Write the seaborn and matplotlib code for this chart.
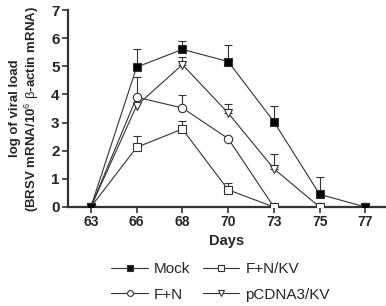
import numpy as np
import pandas as pd
import matplotlib
matplotlib.use("Agg")
import matplotlib.pyplot as plt
import seaborn as sns

days = ["63", "66", "68", "70", "73", "75", "77"]
mock = [0, 4.97, 5.60, 5.17, 3.03, 0.45, 0]
mock_err = [0, 0.66, 0.31, 0.57, 0.55, 0.63, 0]
fnkv = [0, 2.12, 2.77, 0.61, 0, 0, 0]
fnkv_err = [0, 0.41, 0.27, 0.25, 0, 0, 0]
fn = [0, 3.90, 3.52, 2.43, 0, 0, 0]
fn_err = [0, 0.71, 0.46, 0, 0, 0, 0]
pcdna = [0, 3.60, 5.06, 3.34, 1.36, 0, 0]
pcdna_err = [0, 0, 0.26, 0.32, 0.53, 0, 0]

series = ["Mock", "F+N/KV", "F+N", "pCDNA3/KV"]
values = [mock, fnkv, fn, pcdna]
errors = [mock_err, fnkv_err, fn_err, pcdna_err]

sns.set_style("ticks")
plt.rcParams["font.family"] = ["Liberation Sans", "DejaVu Sans"]
plt.rcParams["mathtext.fontset"] = "custom"
plt.rcParams["mathtext.rm"] = "Liberation Sans"
plt.rcParams["mathtext.it"] = "Liberation Sans"
plt.rcParams["mathtext.bf"] = "Liberation Sans:bold"

pos = np.arange(len(days))
df = pd.concat([pd.DataFrame({"x": pos, "y": v, "group": s})
                for s, v in zip(series, values)])

fig = plt.figure(figsize=(3.86, 3.06), dpi=100)
ax = fig.add_axes([68 / 386, 1 - 207 / 306, 318 / 386, 197 / 306])

styles = {
    "Mock": dict(marker="s", mfc="black"),
    "F+N/KV": dict(marker="s", mfc="white"),
    "F+N": dict(marker="o", mfc="white"),
    "pCDNA3/KV": dict(marker="v", mfc="white"),
}

# fehlerbalken nur nach oben
for s, v, e in zip(series, values, errors):
    e = np.array(e)
    mask = e > 0
    ax.errorbar(pos[mask], np.array(v)[mask], yerr=[np.zeros(mask.sum()), e[mask]],
                fmt="none", ecolor="#333333", elinewidth=0.8, capsize=3, capthick=0.8,
                zorder=2)

for s in series[::-1]:
    sub = df[df.group == s]
    st = styles[s]
    sns.lineplot(data=sub, x="x", y="y", ax=ax, color="#333333", linewidth=0.8,
                 marker=st["marker"], markerfacecolor=st["mfc"],
                 markeredgecolor="#333333", markeredgewidth=0.8, markersize=6,
                 label=s, zorder=3)

ax.set_xlim(-0.5, 6.45)
ax.set_ylim(0, 7)
ax.set_xticks(pos)
ax.set_xticklabels(days, fontweight="bold", fontsize=10)
ax.set_yticks(range(8))
ax.set_yticklabels([str(i) for i in range(8)], fontweight="bold", fontsize=11)
ax.tick_params(length=4, width=1.2, color="#333333", pad=2)
for sp in ["left", "bottom"]:
    ax.spines[sp].set_linewidth(1.6)
    ax.spines[sp].set_color("#333333")
sns.despine(ax=ax)
ax.set_xlabel("Days", fontweight="bold", fontsize=10.5, labelpad=3)
ax.set_ylabel("log of viral load\n(BRSV mRNA/10$^{6}$ $\\beta$-actin mRNA)",
              fontweight="bold", fontsize=9.5, labelpad=7, linespacing=1.15)

handles, labels = ax.get_legend_handles_labels()
leg_order = ["Mock", "F+N", "F+N/KV", "pCDNA3/KV"]
idx = [labels.index(s) for s in leg_order]
ax.legend([handles[i] for i in idx], leg_order, ncol=2, frameon=False,
          loc="upper center", bbox_to_anchor=(0.48, -0.21), fontsize=11,
          handlelength=2.4, columnspacing=0.8, labelspacing=0.75,
          handletextpad=0.4, markerscale=0.7)

fig.savefig("out.png", dpi=100)
